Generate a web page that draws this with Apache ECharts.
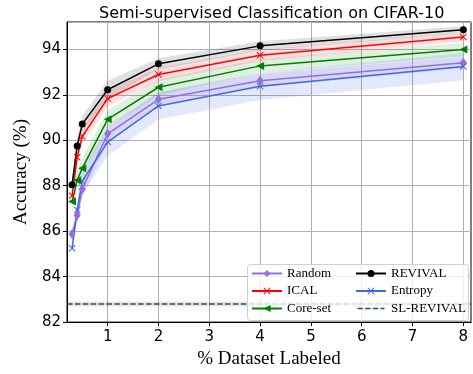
<!DOCTYPE html>
<html>
<head>
<meta charset="utf-8">
<script src="https://cdn.jsdelivr.net/npm/echarts@6/dist/echarts.min.js"></script>
<style>
  html, body { margin: 0; padding: 0; background: #fff; }
  #chart { width: 473px; height: 374px; }
</style>
</head>
<body>
<div id="chart"></div>
<script>
// % of dataset labeled
const labeled = [0.3, 0.4, 0.5, 1, 2, 4, 8];

// mean accuracy per method
const revival = [88.04, 89.75, 90.71, 92.22, 93.36, 94.15, 94.86];
const ical = [87.56, 89.25, 90.17, 91.83, 92.89, 93.74, 94.54];
const coreset = [87.3, 88.24, 88.77, 90.92, 92.33, 93.27, 93.99];
const random = [85.88, 86.7, 87.85, 90.28, 91.8, 92.62, 93.41];
const entropy = [85.25, 86.93, 88.2, 89.92, 91.51, 92.37, 93.24];
const slRevival = 82.8;

// spread (shaded band)
const revivalStd = [0.25, 0.35, 0.35, 0.4, 0.25, 0.2, 0.15];
const icalStd = [0.25, 0.3, 0.35, 0.35, 0.3, 0.25, 0.2];
const coresetStd = [0.5, 0.45, 0.45, 0.4, 0.35, 0.3, 0.3];
const randomStd = [0.3, 0.4, 0.4, 0.4, 0.3, 0.3, 0.25];
const entropyStd = [0.3, 0.5, 0.6, 0.6, 0.6, 0.6, 0.6];
const slRevivalStd = 0.1;

const xTicks = [1, 2, 3, 4, 5, 6, 7, 8];
const X_MIN = 0.2, X_MAX = 8.15;

const X_PATH = 'path://M0,1L1,0L5,4L9,0L10,1L6,5L10,9L9,10L5,6L1,10L0,9L4,5Z';
const TRI_LEFT = 'path://M0,5L10,0L10,10Z';
const THIN_DIAMOND = 'path://M5,0L8.5,5L5,10L1.5,5Z';
// dashed legend icon, 30x10 box (corner specks keep the box size)
const DASH_ICON = 'path://M0,0h0.05v0.05h-0.05z M29.95,9.95h0.05v0.05h-0.05z ' +
  'M0,4.25h6v1.5h-6z M8.5,4.25h6v1.5h-6z M17,4.25h6v1.5h-6z M25.5,4.25h4.5v1.5h-4.5z';

const chart = echarts.init(document.getElementById('chart'));

function band(name, xs, mean, std, fill) {
  return {
    type: 'custom',
    name: name + '-band',
    silent: true,
    clip: true,
    z: 1,
    data: [[xs[0], mean[0]]],
    renderItem: (params, api) => {
      const pts = [];
      xs.forEach((x, i) => pts.push(api.coord([x, mean[i] + std[i]])));
      for (let i = xs.length - 1; i >= 0; i--) {
        pts.push(api.coord([xs[i], mean[i] - std[i]]));
      }
      return { type: 'polygon', shape: { points: pts }, style: { fill: fill } };
    }
  };
}

function line(name, ys, color, symbol, size) {
  return {
    type: 'line',
    name: name,
    data: labeled.map((x, i) => [x, ys[i]]),
    symbol: symbol,
    symbolSize: size,
    showAllSymbol: true,
    lineStyle: { color: color, width: 1.5 },
    itemStyle: { color: color },
    z: 5
  };
}

const legendText = { fontFamily: 'Liberation Serif', fontSize: 13, color: '#000' };

chart.setOption({
  animation: false,
  title: {
    text: 'Semi-supervised Classification on CIFAR-10',
    left: 94, top: 1,
    textStyle: { fontFamily: 'DejaVu Sans', fontSize: 16, fontWeight: 'normal', color: '#000' }
  },
  grid: { left: 67, right: 2, top: 22, bottom: 48, show: true, borderColor: '#000', borderWidth: 1 },
  legend: [
    {
      data: ['Random', 'ICAL', 'Core-set'],
      orient: 'vertical', left: 246, top: 262, z: 20,
      itemWidth: 30, itemHeight: 9, itemGap: 4.5,
      textStyle: legendText
    },
    {
      data: ['REVIVAL', 'Entropy', { name: 'SL-REVIVAL', icon: DASH_ICON, itemStyle: { color: '#2f4f4f' } }],
      orient: 'vertical', left: 350, top: 262, z: 20,
      itemWidth: 30, itemHeight: 9, itemGap: 4.5,
      textStyle: legendText
    }
  ],
  graphic: [{
    type: 'rect', left: 247, top: 264, z: 15,
    shape: { width: 221, height: 56, r: 3 },
    style: { fill: 'rgba(255,255,255,0.8)', stroke: '#d0d0d0', lineWidth: 1 }
  }],
  xAxis: {
    type: 'value', min: X_MIN, max: X_MAX,
    name: '% Dataset Labeled', nameLocation: 'middle', nameGap: 26,
    nameTextStyle: { fontFamily: 'Liberation Serif', fontSize: 19, color: '#000' },
    axisLine: { lineStyle: { color: '#000' } },
    axisTick: { show: true, length: 4, customValues: xTicks, lineStyle: { color: '#000' } },
    axisLabel: { customValues: xTicks, margin: 8, fontFamily: 'DejaVu Sans', fontSize: 15, color: '#000' },
    splitLine: { show: true, lineStyle: { color: '#b0b0b0', width: 1 } }
  },
  yAxis: {
    type: 'value', min: 82, max: 95.2, interval: 2,
    name: 'Accuracy (%)', nameLocation: 'middle', nameGap: 36,
    nameTextStyle: { fontFamily: 'Liberation Serif', fontSize: 19, color: '#000' },
    axisLine: { show: true, lineStyle: { color: '#000' } },
    axisTick: { show: true, length: 4, lineStyle: { color: '#000' } },
    axisLabel: { showMaxLabel: false, margin: 6, fontFamily: 'DejaVu Sans', fontSize: 15, color: '#000' },
    splitLine: { show: true, lineStyle: { color: '#b0b0b0', width: 1 } }
  },
  series: [
    band('sl', [X_MIN, X_MAX], [slRevival, slRevival], [slRevivalStd, slRevivalStd], 'rgba(47,79,79,0.15)'),
    band('entropy', labeled, entropy, entropyStd, 'rgba(65,105,225,0.15)'),
    band('random', labeled, random, randomStd, 'rgba(147,112,219,0.15)'),
    band('coreset', labeled, coreset, coresetStd, 'rgba(0,128,0,0.12)'),
    band('ical', labeled, ical, icalStd, 'rgba(255,0,0,0.12)'),
    band('revival', labeled, revival, revivalStd, 'rgba(0,0,0,0.12)'),
    {
      type: 'line', name: 'SL-REVIVAL',
      data: [[X_MIN, slRevival], [X_MAX, slRevival]],
      symbol: 'none',
      lineStyle: { color: '#2f4f4f', width: 1.5, type: [5.5, 2.4] },
      itemStyle: { color: '#2f4f4f' },
      z: 4
    },
    line('Random', random, '#9370db', THIN_DIAMOND, [7, 10]),
    line('Entropy', entropy, '#4169e1', X_PATH, 7),
    line('Core-set', coreset, '#008000', TRI_LEFT, 8),
    line('ICAL', ical, '#ff0000', X_PATH, 7),
    line('REVIVAL', revival, '#000000', 'circle', 7)
  ]
});
</script>
</body>
</html>
